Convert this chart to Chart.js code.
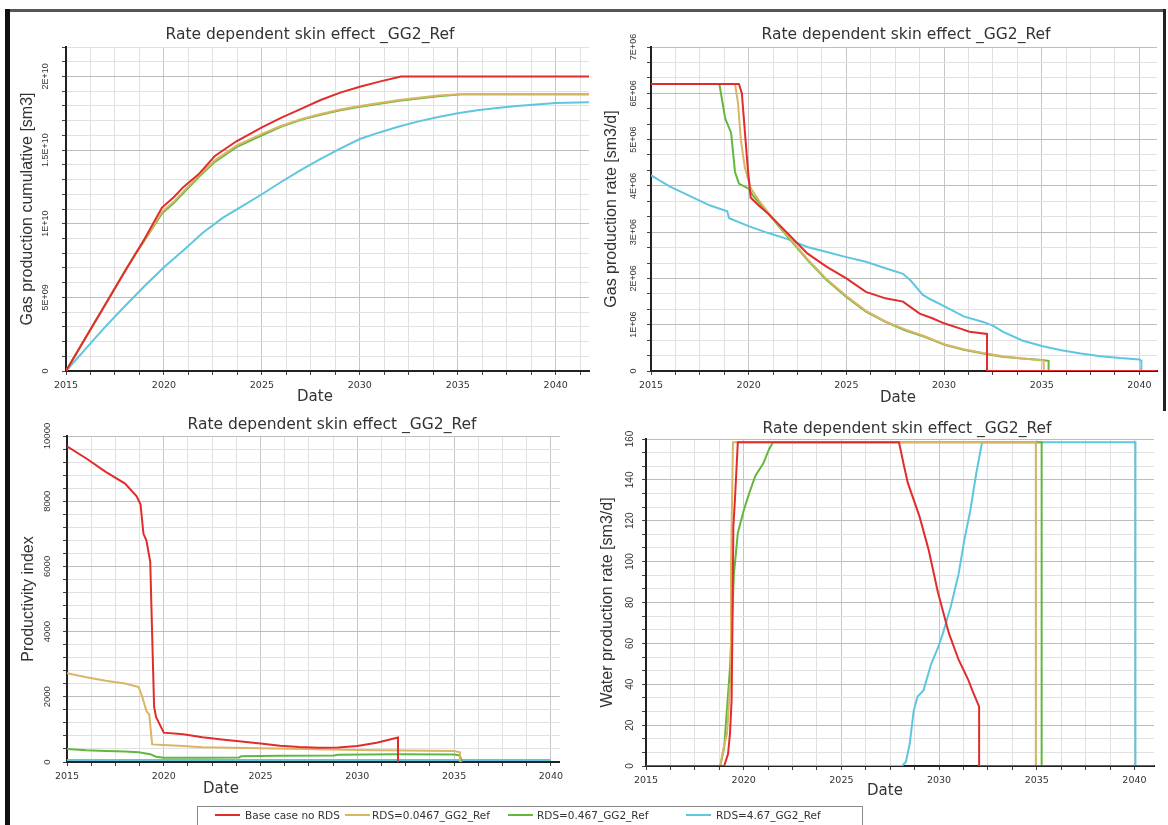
<!DOCTYPE html>
<html><head><meta charset="utf-8">
<script src="https://cdn.jsdelivr.net/npm/chart.js@4.4.0/dist/chart.umd.min.js"></script>
<style>
html,body{margin:0;padding:0;background:#fff;width:1168px;height:825px;overflow:hidden;position:relative;}
canvas{position:absolute;}
.t{position:absolute;transform:translate(-50%,-50%);white-space:nowrap;color:#333;font-family:'DejaVu Sans',sans-serif;}
.ttl{font-size:15.5px;}
.dt{font-size:15px;}
.fr{position:absolute;}
.lg{position:absolute;height:2px;width:25px;}
.lt{position:absolute;transform:translateY(-50%);white-space:nowrap;color:#333;font-family:'DejaVu Sans',sans-serif;font-size:10.5px;}
</style></head><body>
<div class="fr" style="left:5px;top:9px;width:1161px;height:3px;background:#555;"></div>
<div class="fr" style="left:5px;top:9px;width:5px;height:816px;background:#111;"></div>
<div class="fr" style="left:1163px;top:9px;width:3px;height:402px;background:#222;"></div>

<canvas id="c1"></canvas><canvas id="c2"></canvas><canvas id="c3"></canvas><canvas id="c4"></canvas>

<div class="t ttl" style="left:310px;top:34px;">Rate dependent skin effect _GG2_Ref</div>
<div class="t ttl" style="left:906px;top:34px;">Rate dependent skin effect _GG2_Ref</div>
<div class="t ttl" style="left:332px;top:424px;">Rate dependent skin effect _GG2_Ref</div>
<div class="t ttl" style="left:907px;top:428px;">Rate dependent skin effect _GG2_Ref</div>
<div class="t dt" style="left:315px;top:396px;">Date</div>
<div class="t dt" style="left:898px;top:397px;">Date</div>
<div class="t dt" style="left:221px;top:788px;">Date</div>
<div class="t dt" style="left:885px;top:790px;">Date</div>

<div class="fr" style="left:197px;top:806px;width:664px;height:30px;border:1px solid #8a8a8a;background:#fff;"></div>
<div id="legend"></div>

<script>
// ---------- series names / colours ----------
const seriesNames = ['Base case no RDS', 'RDS=0.0467_GG2_Ref', 'RDS=0.467_GG2_Ref', 'RDS=4.67_GG2_Ref'];
const seriesColors = ['#e22c2c', '#dbb464', '#62b83e', '#5fc6df'];

// ---------- Gas production cumulative [sm3] ----------
const cumRed = [[2015,0],[2016,2.25e9],[2017,4.5e9],[2018,6.75e9],[2019,8.95e9],[2019.9,1.11e10],[2020.5,1.18e10],[2021,1.25e10],[2021.8,1.34e10],[2022.6,1.46e10],[2023.7,1.56e10],[2025,1.655e10],[2026,1.72e10],[2027,1.78e10],[2028,1.84e10],[2029,1.89e10],[2030,1.93e10],[2031,1.965e10],[2032.1,2.0e10],[2041.7,2.0e10]];
const cumYellow = [[2015,0],[2016,2.25e9],[2017,4.5e9],[2018,6.75e9],[2019,8.9e9],[2019.9,1.08e10],[2020.5,1.15e10],[2021,1.22e10],[2021.8,1.33e10],[2022.6,1.43e10],[2023.7,1.53e10],[2025,1.61e10],[2026,1.665e10],[2027,1.71e10],[2028,1.745e10],[2029,1.775e10],[2030,1.8e10],[2031,1.82e10],[2032,1.84e10],[2033,1.855e10],[2034,1.87e10],[2035.1,1.88e10],[2041.7,1.88e10]];
const cumGreen = [[2015,0],[2016,2.25e9],[2017,4.5e9],[2018,6.75e9],[2018.5,7.85e9],[2019,8.85e9],[2019.9,1.07e10],[2020.5,1.14e10],[2021,1.21e10],[2021.8,1.32e10],[2022.6,1.42e10],[2023.7,1.52e10],[2025,1.6e10],[2026,1.66e10],[2027,1.705e10],[2028,1.74e10],[2029,1.77e10],[2030,1.795e10],[2031,1.815e10],[2032,1.835e10],[2033,1.85e10],[2034,1.865e10],[2035.35,1.88e10],[2041.7,1.88e10]];
const cumCyan = [[2015,0],[2016,1.5e9],[2017,3.0e9],[2018,4.4e9],[2019,5.75e9],[2020,7.05e9],[2021,8.2e9],[2022,9.4e9],[2023,1.04e10],[2024,1.12e10],[2025,1.2e10],[2026,1.285e10],[2027,1.365e10],[2028,1.44e10],[2029,1.51e10],[2030,1.575e10],[2031,1.62e10],[2032,1.66e10],[2033,1.695e10],[2034,1.725e10],[2035,1.75e10],[2036,1.77e10],[2037,1.785e10],[2038,1.8e10],[2039,1.81e10],[2040,1.82e10],[2041.7,1.825e10]];
const cumTickVals = [0, 5e9, 1e10, 1.5e10, 2e10];
const cumTickText = ['0', '5E+09', '1E+10', '1.5E+10', '2E+10'];

// ---------- Gas production rate [sm3/d] ----------
const rateRed = [[2015,6.2e6],[2019.5,6.2e6],[2019.65,6.0e6],[2019.8,5.2e6],[2019.95,4.4e6],[2020.1,3.75e6],[2020.5,3.58e6],[2021,3.4e6],[2022,2.97e6],[2023,2.54e6],[2024,2.25e6],[2025,2.0e6],[2026,1.71e6],[2027,1.57e6],[2027.9,1.5e6],[2028.75,1.24e6],[2029.4,1.14e6],[2030,1.03e6],[2030.8,0.92e6],[2031.3,0.85e6],[2032.2,0.8e6],[2032.2,0],[2040.9,0]];
const rateYellow = [[2015,6.2e6],[2019.3,6.2e6],[2019.45,5.8e6],[2019.6,5.0e6],[2019.8,4.4e6],[2020.1,3.95e6],[2020.5,3.7e6],[2021,3.42e6],[2022,2.92e6],[2023,2.42e6],[2024,1.98e6],[2025,1.62e6],[2026,1.3e6],[2027,1.07e6],[2028,0.9e6],[2029,0.75e6],[2030,0.58e6],[2031,0.47e6],[2032,0.39e6],[2033,0.32e6],[2034,0.27e6],[2035.1,0.23e6],[2035.1,0],[2040.9,0]];
const rateGreen = [[2015,6.2e6],[2018.5,6.2e6],[2018.8,5.45e6],[2019.1,5.15e6],[2019.3,4.3e6],[2019.5,4.05e6],[2020,3.94e6],[2020.2,3.8e6],[2021,3.4e6],[2022,2.9e6],[2023,2.4e6],[2024,1.96e6],[2025,1.6e6],[2026,1.28e6],[2027,1.06e6],[2028,0.88e6],[2029,0.74e6],[2030,0.57e6],[2031,0.46e6],[2032,0.38e6],[2033,0.31e6],[2034,0.27e6],[2035,0.24e6],[2035.35,0.22e6],[2035.35,0],[2040.9,0]];
const rateCyan = [[2015,4.23e6],[2015.5,4.1e6],[2016,3.98e6],[2017,3.78e6],[2018,3.58e6],[2018.9,3.45e6],[2019,3.3e6],[2020,3.13e6],[2021,2.98e6],[2022,2.85e6],[2023,2.68e6],[2024,2.57e6],[2025,2.46e6],[2026,2.36e6],[2027,2.22e6],[2027.9,2.1e6],[2028.3,1.95e6],[2028.9,1.65e6],[2029.3,1.55e6],[2030,1.4e6],[2031,1.18e6],[2032,1.06e6],[2032.5,0.98e6],[2033,0.85e6],[2034,0.66e6],[2035,0.54e6],[2036,0.45e6],[2037,0.38e6],[2038,0.32e6],[2039,0.28e6],[2040,0.25e6],[2040.1,0.22e6],[2040.1,0],[2040.9,0]];
const rateTickVals = [0, 1e6, 2e6, 3e6, 4e6, 5e6, 6e6, 7e6];
const rateTickText = ['0', '1E+06', '2E+06', '3E+06', '4E+06', '5E+06', '6E+06', '7E+06'];

// ---------- Productivity index ----------
const piRed = [[2015,9680],[2016,9310],[2017,8900],[2018,8540],[2018.6,8150],[2018.8,7900],[2018.95,7000],[2019.1,6800],[2019.3,6150],[2019.4,3900],[2019.5,1700],[2019.6,1380],[2020,900],[2021,850],[2022,760],[2023,690],[2024,630],[2025,570],[2026,500],[2027,460],[2028,440],[2029,445],[2030,490],[2031,590],[2032.1,750],[2032.1,0]];
const piYellow = [[2015,2720],[2016,2600],[2017,2490],[2018,2410],[2018.7,2300],[2018.9,1980],[2019.1,1570],[2019.25,1450],[2019.4,540],[2020,520],[2021,490],[2022,450],[2025,420],[2030,370],[2035,340],[2035.3,300],[2035.3,0]];
const piGreen = [[2015,400],[2016,360],[2017,340],[2018,320],[2018.7,300],[2019.3,240],[2019.6,160],[2020,130],[2022,130],[2023.9,140],[2024,180],[2026,190],[2028.8,200],[2029,220],[2032,235],[2035,230],[2035.3,200],[2035.4,0]];
const piCyan = [[2015,60],[2020,60],[2025,60],[2030,60],[2035,60],[2040,60]];
const piTickVals = [0, 2000, 4000, 6000, 8000, 10000];
const piTickText = ['0', '2000', '4000', '6000', '8000', '10000'];

// ---------- Water production rate [sm3/d] ----------
const wRed = [[2015,0],[2019.0,0],[2019.2,6],[2019.3,16],[2019.38,32],[2019.42,65],[2019.47,117],[2019.55,130],[2019.7,158.4],[2027.95,158.4],[2028.2,147],[2028.4,138.5],[2029,122],[2029.46,106],[2029.94,85],[2030.5,65],[2031,52],[2031.5,42],[2031.7,37],[2032.05,29],[2032.05,0],[2041,0]];
const wYellow = [[2015,0],[2018.8,0],[2018.95,8],[2019.15,16],[2019.3,40],[2019.35,98],[2019.45,158.4],[2034.95,158.4],[2034.95,0],[2041,0]];
const wGreen = [[2015,0],[2018.8,0],[2019.0,9],[2019.3,48],[2019.5,94],[2019.7,114],[2020,125],[2020.3,134],[2020.6,142],[2021,148],[2021.3,155],[2021.5,158.4],[2035.25,158.4],[2035.25,0],[2041,0]];
const wCyan = [[2015,0],[2028.1,0],[2028.3,2],[2028.5,11],[2028.7,27],[2028.9,34],[2029.2,37],[2029.6,50],[2029.95,58],[2030.2,65],[2030.6,78],[2031,94],[2031.3,111],[2031.6,125],[2031.9,143],[2032.2,158.4],[2040.05,158.4],[2040.05,0],[2041,0]];
const wTickVals = [0, 20, 40, 60, 80, 100, 120, 140, 160];
const wTickText = ['0', '20', '40', '60', '80', '100', '120', '140', '160'];

const yearTickVals = [2015, 2020, 2025, 2030, 2035, 2040];
const yearTickText = ['2015', '2020', '2025', '2030', '2035', '2040'];

// ---------- helpers ----------
function lookup(vals, texts, v, tol) {
  for (let i = 0; i < vals.length; i++) if (Math.abs(vals[i] - v) < tol) return texts[i];
  return null;
}
function panel(id, box, area, cfg) {
  const cv = document.getElementById(id);
  cv.width = box.w; cv.height = box.h;
  cv.style.left = box.l + 'px'; cv.style.top = box.t + 'px';
  const padTop = area.y0 - box.t;
  const padRight = box.l + box.w - area.x1;
  const yW = area.x0 - box.l;
  const xH = box.t + box.h - area.y1;
  const xt = []; for (let k = 0; 2015 + k * 1.25 <= cfg.xmax + 1e-9; k++) xt.push(2015 + k * 1.25);
  const yt = []; for (let k = 0; k <= cfg.yMinorCount; k++) yt.push(cfg.ymax * k / cfg.yMinorCount);
  const ytol = cfg.ymax / cfg.yMinorCount / 10;
  const xLab = v => lookup(yearTickVals, yearTickText, v, 0.01);
  const yLab = v => lookup(cfg.tickVals, cfg.tickText, v, ytol);
  return new Chart(cv, {
    type: 'line',
    data: { datasets: cfg.series.map((s, i) => ({
      label: seriesNames[i],
      data: s.map(p => ({ x: p[0], y: p[1] })),
      borderColor: seriesColors[i], backgroundColor: seriesColors[i],
      borderWidth: 2, pointRadius: 0, tension: 0, fill: false
    })) },
    options: {
      responsive: false, animation: false, events: [],
      layout: { padding: { top: padTop, right: padRight, bottom: 0, left: 0 } },
      plugins: { legend: { display: false }, tooltip: { enabled: false }, title: { display: false } },
      scales: {
        x: {
          type: 'linear', min: 2015, max: cfg.xmax,
          afterBuildTicks: s => { s.ticks = xt.map(v => ({ value: v })); },
          afterFit: s => { s.height = xH; },
          ticks: { autoSkip: false, maxRotation: 0, minRotation: 0, padding: 5, color: '#333',
                   font: { family: 'DejaVu Sans', size: 9.5 }, callback: v => xLab(v) || '' },
          grid: { color: c => (c.tick && xLab(c.tick.value)) ? '#c6c6c6' : '#e1e1e1', tickLength: 4, tickColor: '#444', lineWidth: 1 },
          border: { color: '#222', width: 2 }
        },
        y: {
          type: 'linear', min: 0, max: cfg.ymax,
          afterBuildTicks: s => { s.ticks = yt.map(v => ({ value: v })); },
          afterFit: s => { s.width = yW; },
          ticks: { autoSkip: false, minRotation: 90, maxRotation: 90, crossAlign: 'center', padding: cfg.yTickPad,
                   color: '#333', font: { family: 'Liberation Sans', size: cfg.yTickSize }, callback: v => yLab(v) || '' },
          grid: { color: c => (c.tick && yLab(c.tick.value)) ? '#bdbdbd' : '#e1e1e1', tickLength: 4, tickColor: '#444', lineWidth: 1 },
          border: { color: '#222', width: 2 },
          title: { display: true, text: cfg.yTitle, color: '#333', font: { family: 'Liberation Sans', size: 16 },
                   padding: { top: cfg.yTitlePad, bottom: 0 } }
        }
      }
    }
  });
}

panel('c1', { l: 10, t: 12, w: 581, h: 388 }, { x0: 66, x1: 589, y0: 47, y1: 371 }, {
  series: [cumRed, cumYellow, cumGreen, cumCyan], xmax: 2041.7, ymax: 2.2e10, yMinorCount: 22,
  tickVals: cumTickVals, tickText: cumTickText, yTitle: 'Gas production cumulative [sm3]',
  yTickSize: 9, yTickPad: 0, yTitlePad: 8.4
});
panel('c2', { l: 590, t: 12, w: 569, h: 388 }, { x0: 651, x1: 1157, y0: 47, y1: 371 }, {
  series: [rateRed, rateYellow, rateGreen, rateCyan], xmax: 2040.9, ymax: 7e6, yMinorCount: 21,
  tickVals: rateTickVals, tickText: rateTickText, yTitle: 'Gas production rate [sm3/d]',
  yTickSize: 9, yTickPad: 0, yTitlePad: 12.4
});
panel('c3', { l: 10, t: 405, w: 558, h: 395 }, { x0: 67, x1: 566, y0: 436, y1: 762 }, {
  series: [piRed, piYellow, piGreen, piCyan], xmax: 2040.46, ymax: 10000, yMinorCount: 25,
  tickVals: piTickVals, tickText: piTickText, yTitle: 'Productivity index',
  yTickSize: 9.5, yTickPad: 2.8, yTitlePad: 9.4
});
panel('c4', { l: 590, t: 405, w: 566, h: 395 }, { x0: 646, x1: 1154, y0: 439, y1: 766 }, {
  series: [wRed, wYellow, wGreen, wCyan], xmax: 2041.0, ymax: 160, yMinorCount: 24,
  tickVals: wTickVals, tickText: wTickText, yTitle: 'Water production rate [sm3/d]',
  yTickSize: 10, yTickPad: 3.7, yTitlePad: 8.4
});

// ---------- legend (HTML) ----------
const legendLineX = [215, 345, 508, 686];
const legendTextX = [245, 372, 537, 716];
const lg = document.getElementById('legend');
seriesNames.forEach((n, i) => {
  const l = document.createElement('div'); l.className = 'lg';
  l.style.left = legendLineX[i] + 'px'; l.style.top = '814px'; l.style.background = seriesColors[i];
  lg.appendChild(l);
  const t = document.createElement('div'); t.className = 'lt';
  t.style.left = legendTextX[i] + 'px'; t.style.top = '815px'; t.textContent = n;
  lg.appendChild(t);
});
</script>
</body></html>
